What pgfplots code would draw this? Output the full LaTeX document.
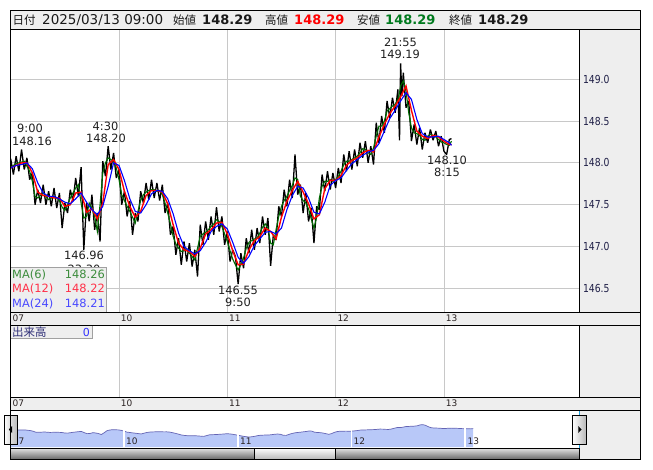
\documentclass[border=0pt]{standalone}
\usepackage{fontspec}
\setmainfont{DejaVu Sans}
\newfontfamily\cjk{Noto Sans CJK JP}
\newfontfamily\tah[FakeStretch=0.84]{DejaVu Sans}
\usepackage{pgfplots}
\pgfplotsset{compat=1.18}
\usepackage{pgfplotstable}

\definecolor{panel}{HTML}{EEEEEE}
\definecolor{gridc}{HTML}{C8C8C8}
\definecolor{edge}{HTML}{A0A0A0}
\definecolor{ma6c}{HTML}{006A00}
\definecolor{ma12c}{HTML}{FF0000}
\definecolor{ma24c}{HTML}{0000FF}
\definecolor{lab6}{HTML}{3C8C3C}
\definecolor{lab12}{HTML}{FF3048}
\definecolor{lab24}{HTML}{4848FF}
\definecolor{navfill}{HTML}{B8C8F8}
\definecolor{navline}{HTML}{6464B4}
\definecolor{tickc}{HTML}{1E1E46}
\definecolor{stripc}{HTML}{2A2222}
\definecolor{hired}{HTML}{FF0000}
\definecolor{logreen}{HTML}{007A1E}
\definecolor{winblue}{HTML}{1EA0DC}
\definecolor{volc}{HTML}{303078}

% candles (zigzag hi/lo) and MA(6) centre line, x in days from 03/07
\pgfplotstableread{
d zig c
0.000 148.05 147.94
0.025 147.86 147.97
0.050 148.08 147.99
0.075 147.90 148.00
0.100 148.16 148.01
0.125 147.92 148.02
0.150 148.06 147.96
0.175 147.80 147.90
0.200 147.88 147.78
0.225 147.50 147.60
0.250 147.68 147.58
0.275 147.52 147.61
0.300 147.74 147.64
0.325 147.50 147.60
0.350 147.66 147.56
0.375 147.48 147.58
0.400 147.70 147.60
0.425 147.46 147.58
0.450 147.64 147.55
0.475 147.22 147.47
0.500 147.52 147.43
0.525 147.40 147.50
0.550 147.68 147.58
0.575 147.54 147.64
0.600 147.82 147.70
0.625 147.60 147.74
0.650 147.95 147.52
0.675 146.96 147.34
0.700 147.52 147.36
0.725 147.30 147.52
0.750 147.62 147.46
0.775 147.20 147.36
0.800 147.40 147.18
0.825 147.06 147.50
0.850 148.02 147.88
0.875 147.84 148.00
0.900 148.20 148.06
0.925 147.92 148.04
0.950 148.12 148.02
0.975 147.82 147.94
1.000 147.92 147.80
1.025 147.50 147.62
1.050 147.66 147.55
1.075 147.36 147.48
1.100 147.54 147.42
1.125 147.14 147.35
1.150 147.40 147.28
1.175 147.30 147.42
1.200 147.66 147.55
1.225 147.52 147.62
1.250 147.76 147.65
1.275 147.56 147.67
1.300 147.80 147.68
1.325 147.58 147.68
1.350 147.76 147.66
1.375 147.55 147.67
1.400 147.74 147.62
1.425 147.40 147.52
1.450 147.52 147.40
1.475 147.14 147.27
1.500 147.24 147.12
1.525 146.90 147.03
1.550 147.10 146.98
1.575 146.78 146.94
1.600 147.06 146.95
1.625 146.82 146.96
1.650 147.04 146.92
1.675 146.76 146.88
1.700 146.96 146.84
1.725 146.64 146.98
1.750 147.26 147.12
1.775 147.02 147.15
1.800 147.30 147.17
1.825 147.08 147.20
1.850 147.36 147.24
1.875 147.14 147.27
1.900 147.47 147.32
1.925 147.18 147.30
1.950 147.36 147.24
1.975 147.02 147.15
2.000 147.18 147.06
2.025 146.82 146.95
2.050 146.96 146.85
2.075 146.88 146.78
2.100 146.55 146.72
2.125 146.92 146.78
2.150 146.74 146.86
2.175 147.10 146.98
2.200 146.92 147.05
2.225 147.20 147.07
2.250 146.96 147.09
2.275 147.22 147.10
2.300 147.04 147.16
2.325 147.36 147.23
2.350 147.14 147.27
2.375 147.34 147.22
2.400 146.77 147.04
2.425 147.14 147.02
2.450 147.08 147.20
2.475 147.48 147.36
2.500 147.36 147.48
2.525 147.68 147.55
2.550 147.48 147.60
2.575 147.80 147.67
2.600 147.58 147.73
2.625 148.10 147.82
2.650 147.62 147.80
2.675 147.74 147.60
2.700 147.40 147.55
2.725 147.64 147.52
2.750 147.30 147.45
2.775 147.46 147.33
2.800 147.04 147.22
2.825 147.48 147.35
2.850 147.44 147.58
2.875 147.86 147.72
2.900 147.66 147.78
2.925 147.90 147.78
2.950 147.68 147.80
2.975 147.88 147.78
3.000 147.70 147.80
3.025 147.94 147.84
3.050 147.76 147.90
3.075 148.10 147.98
3.100 147.90 148.02
3.125 148.14 148.02
3.150 147.92 148.04
3.175 148.16 148.06
3.200 147.96 148.08
3.225 148.24 148.12
3.250 148.06 148.17
3.275 148.26 148.16
3.300 148.00 148.12
3.325 148.20 148.10
3.350 147.98 148.18
3.375 148.48 148.32
3.400 148.24 148.44
3.425 148.56 148.44
3.450 148.36 148.50
3.475 148.74 148.62
3.500 148.54 148.65
3.525 148.78 148.68
3.550 148.60 148.70
3.575 148.88 148.76
3.590 148.27 148.84
3.600 149.19 148.92
3.612 148.80 148.95
3.625 149.08 148.98
3.650 148.66 148.86
3.675 148.74 148.60
3.700 148.26 148.42
3.725 148.46 148.36
3.750 148.22 148.35
3.775 148.42 148.33
3.800 148.16 148.28
3.825 148.36 148.27
3.850 148.24 148.32
3.875 148.40 148.34
3.900 148.27 148.33
3.925 148.38 148.31
3.950 148.20 148.28
3.975 148.32 148.25
4.000 148.14 148.24
4.025 148.10 148.22
4.050 148.28 148.21
4.070 148.29 148.26
}\bars

% MA(12) and MA(24)
\pgfplotstableread{
d m12 m24
0.00 147.94 147.94
0.05 147.97 147.97
0.10 148.00 147.98
0.15 148.00 148.00
0.20 147.88 147.93
0.25 147.65 147.76
0.30 147.61 147.64
0.35 147.60 147.60
0.40 147.58 147.60
0.45 147.58 147.57
0.50 147.48 147.53
0.55 147.50 147.51
0.60 147.64 147.57
0.65 147.65 147.64
0.70 147.41 147.53
0.75 147.45 147.44
0.80 147.33 147.38
0.85 147.52 147.48
0.90 147.98 147.72
0.95 148.04 148.00
1.00 147.92 147.97
1.05 147.66 147.79
1.10 147.48 147.57
1.15 147.35 147.42
1.20 147.42 147.40
1.25 147.61 147.50
1.30 147.67 147.63
1.35 147.67 147.67
1.40 147.65 147.66
1.45 147.51 147.57
1.50 147.26 147.39
1.55 147.04 147.16
1.60 146.96 147.00
1.65 146.94 146.95
1.70 146.88 146.91
1.75 146.98 146.95
1.80 147.15 147.05
1.85 147.20 147.18
1.90 147.28 147.24
1.95 147.29 147.27
2.00 147.15 147.21
2.05 146.95 147.05
2.10 146.78 146.87
2.15 146.79 146.80
2.20 146.96 146.88
2.25 147.07 147.01
2.30 147.12 147.09
2.35 147.22 147.17
2.40 147.18 147.18
2.45 147.09 147.15
2.50 147.35 147.22
2.55 147.54 147.44
2.60 147.67 147.61
2.65 147.78 147.72
2.70 147.65 147.70
2.75 147.51 147.58
2.80 147.33 147.41
2.85 147.38 147.39
2.90 147.69 147.53
2.95 147.79 147.73
3.00 147.79 147.79
3.05 147.85 147.82
3.10 147.97 147.91
3.15 148.03 147.99
3.20 148.06 148.04
3.25 148.12 148.09
3.30 148.15 148.13
3.35 148.13 148.15
3.40 148.31 148.23
3.45 148.46 148.38
3.50 148.59 148.53
3.55 148.68 148.63
3.60 148.79 148.74
3.65 148.92 148.84
3.70 148.63 148.76
3.75 148.38 148.52
3.80 148.32 148.35
3.85 148.29 148.31
3.90 148.33 148.31
3.95 148.31 148.32
4.00 148.26 148.28
4.05 148.22 148.24
4.07 148.22 148.21
}\mas

\pgfplotsset{
  pane/.style={
    scale only axis, anchor=north west,
    axis line style={draw=none},
    major tick length=0pt,
    scaled ticks=false,
    xticklabel style={anchor=north west, inner sep=0pt, xshift=1.7pt, yshift=-2.1pt,
      font=\fontsize{9}{9}\selectfont, text=stripc},
  },
}

\begin{document}
\begin{tikzpicture}
\begin{scope}[x=1pt,y=-1pt]
  \path[use as bounding box] (0,0) rectangle (653,470);
  \fill[white] (0,0) rectangle (653,470);
  \fill[panel] (10.7,10.7) rectangle (640.7,29.3);
  \fill[panel] (579.3,29.3) rectangle (640.7,459);
  \fill[panel] (10.7,312.7) rectangle (640.7,325);
  \fill[panel] (10.7,397.3) rectangle (640.7,410);
\end{scope}

% price pane
\begin{axis}[pane,
  at={(10.7pt,-29.3pt)},
  width=568.6pt, height=283.4pt,
  xmin=0, xmax=5.25, ymin=146.208, ymax=149.598,
  xtick={0,1,2,3,4}, xticklabels={07,10,11,12,13},
  ytick={146.5,147.0,147.5,148.0,148.5,149.0},
  yticklabel pos=right,
  grid=major, major grid style={gridc, line width=0.8pt},
  /pgf/number format/assume math mode=true,
  yticklabel style={anchor=west, inner sep=0pt, xshift=3.5pt,
    font=\tah\fontsize{11}{11}\selectfont, text=tickc,
    /pgf/number format/fixed, /pgf/number format/fixed zerofill,
    /pgf/number format/precision=1},
]
\addplot[black, line width=1.3pt, line join=miter, miter limit=2] table[x=d,y=zig]{\bars};
\addplot[ma6c, line width=1.1pt] table[x=d,y=c]{\bars};
\addplot[ma12c, line width=1.4pt] table[x=d,y=m12]{\mas};
\addplot[ma24c, line width=1.1pt] table[x=d,y=m24]{\mas};
\end{axis}

% volume pane (empty)
\begin{axis}[pane,
  at={(10.7pt,-325pt)},
  width=568.6pt, height=72.3pt,
  xmin=0, xmax=5.25, ymin=0, ymax=1,
  xtick={0,1,2,3,4}, xticklabels={07,10,11,12,13},
  ytick=\empty,
  xmajorgrids, major grid style={gridc, line width=0.8pt},
]
\end{axis}

% navigator
\begin{axis}[pane,
  at={(10.33pt,-410pt)},
  width=568.67pt, height=37pt,
  xmin=0, xmax=5, ymin=144.91, ymax=151.64,
  xtick={1,2,3,4}, xticklabels={},
  ytick=\empty,
  axis on top,
  xmajorgrids, major grid style={white, line width=1.6pt},
]
\addplot[draw=none, fill=navfill] table[x=d,y=c]{\bars} \closedcycle;
\addplot[navline, line width=0.7pt] table[x=d,y=c]{\bars};
\end{axis}

\begin{scope}[x=1pt,y=-1pt]
  % annotations
  \begin{scope}[every node/.style={anchor=base, inner sep=0pt, text=black!88,
      font=\fontsize{11.4}{12}\selectfont}]
    \node at (30,133) {9:00};
    \node at (32,146) {148.16};
    \node at (105.5,130.7) {4:30};
    \node at (106,142.7) {148.20};
    \node at (84,260) {146.96};
    \node at (84,273) {23:30};
    \node at (238,294.3) {146.55};
    \node at (238,306.7) {9:50};
    \node at (400.5,46.7) {21:55};
    \node at (400,59) {149.19};
    \node at (447,164.3) {148.10};
    \node at (447,176.7) {8:15};
  \end{scope}

  % legend box
  \filldraw[fill=panel, draw=edge, line width=0.8pt] (10.7,267) rectangle (106.7,312.7);
  \begin{scope}[every node/.style={inner sep=0pt, font=\fontsize{11.4}{12}\selectfont}]
    \node[anchor=base west, text=lab6] at (12,279) {MA(6)};
    \node[anchor=base east, text=lab6] at (105,279) {148.26};
    \node[anchor=base west, text=lab12] at (12,293) {MA(12)};
    \node[anchor=base east, text=lab12] at (105,293) {148.22};
    \node[anchor=base west, text=lab24] at (12,307) {MA(24)};
    \node[anchor=base east, text=lab24] at (105,307) {148.21};
  \end{scope}

  % volume label box
  \filldraw[fill=panel, draw=edge, line width=0.8pt] (10.7,325) rectangle (92,338.5);
  \node[anchor=base west, inner sep=0pt, text=volc, font=\cjk\fontsize{11.5}{12}\selectfont] at (12,336) {出来高};
  \node[anchor=base east, inner sep=0pt, text=blue!80, font=\fontsize{11}{12}\selectfont] at (90,336) {0};

  % navigator labels
  \begin{scope}[every node/.style={anchor=base west, inner sep=0pt, text=stripc,
      font=\fontsize{9}{9}\selectfont}]
    \node at (12.7,444) {07};
    \node at (126,444) {10};
    \node at (240,444) {11};
    \node at (353.5,444) {12};
    \node at (467.5,444) {13};
  \end{scope}

  % header
  \begin{scope}[every node/.style={anchor=base west, inner sep=0pt}]
    \node[font=\cjk\fontsize{11.5}{12}\selectfont, text=black!90] at (12.5,25) {日付};
    \node[font=\fontsize{13.5}{14}\selectfont, text=black!90] at (42,25) {2025/03/13 09:00};
    \node[font=\cjk\fontsize{11.5}{12}\selectfont, text=black!90] at (173,25) {始値};
    \node[font=\bfseries\fontsize{13}{14}\selectfont, text=black!90] at (202,25) {148.29};
    \node[font=\cjk\fontsize{11.5}{12}\selectfont, text=black!90] at (265,25) {高値};
    \node[font=\bfseries\fontsize{13}{14}\selectfont, text=hired] at (294,25) {148.29};
    \node[font=\cjk\fontsize{11.5}{12}\selectfont, text=black!90] at (357,25) {安値};
    \node[font=\bfseries\fontsize{13}{14}\selectfont, text=logreen] at (385,25) {148.29};
    \node[font=\cjk\fontsize{11.5}{12}\selectfont, text=black!90] at (449,25) {終値};
    \node[font=\bfseries\fontsize{13}{14}\selectfont, text=black!90] at (478,25) {148.29};
  \end{scope}

  % scroll bar
  \shade[top color=gray!20, bottom color=gray!85!black] (10.7,448) rectangle (579.3,459);
  \shade[top color=white, bottom color=gray!55, draw=black, line width=0.8pt] (254,448) rectangle (335.5,459);
  \draw[black, line width=0.8pt] (10.7,448) -- (579.3,448);

  % window markers and buttons
  \draw[winblue, line width=0.7pt] (10.7,410) -- (10.7,448);
  \draw[winblue, line width=0.7pt] (579.3,410) -- (579.3,448);
  \shade[left color=white, right color=gray!55, draw=black, line width=0.8pt] (4,415) rectangle (17.5,444);
  \fill[black] (8.8,429.5) -- (12,426) -- (12,433) -- cycle;
  \shade[left color=white, right color=gray!55, draw=black, line width=0.8pt] (572.5,415) rectangle (586,444);
  \fill[black] (581.5,429.5) -- (578.3,426) -- (578.3,433) -- cycle;

  % frame lines
  \draw[black, line width=0.9pt] (10.7,10.7) rectangle (640.7,459);
  \foreach \yy in {29.3,312.7,325,397.3,410}
    \draw[black, line width=0.9pt] (10.7,\yy) -- (640.7,\yy);
  \draw[black, line width=0.9pt] (579.3,29.3) -- (579.3,312.7);
  \draw[black, line width=0.9pt] (579.3,325) -- (579.3,397.3);
  \draw[black, line width=0.9pt] (579.3,448) -- (579.3,459);
\end{scope}
\end{tikzpicture}
\end{document}
